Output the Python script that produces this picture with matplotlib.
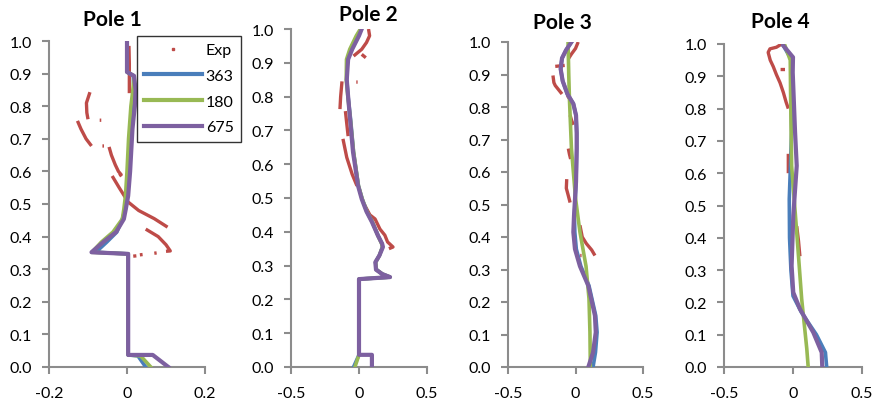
import numpy as np
import matplotlib
matplotlib.use("Agg")
import matplotlib.pyplot as plt
from matplotlib.lines import Line2D

plt.rcParams['font.family'] = ['Lato', 'DejaVu Sans']

nan = np.nan

# ---------------- Pole 1 ----------------
p1_exp_x = [0.005, 0.006, 0.006, nan,
            -0.095, -0.104, -0.103, -0.100, nan,
            -0.070, -0.066, nan,
            -0.127, -0.118, -0.105, -0.091, nan,
            -0.063, -0.059, nan,
            -0.046, -0.040, -0.030, -0.022, -0.015, -0.020, nan,
            -0.038, -0.020, 0.003, 0.030, 0.070, 0.104, nan,
            0.048, 0.080, 0.100, 0.111, 0.100, nan,
            0.016, 0.024, nan, 0.033, 0.040, nan, 0.070, 0.076]
p1_exp_y = [0.985, 0.930, 0.840, nan,
            0.843, 0.810, 0.780, 0.760, nan,
            0.757, 0.757, nan,
            0.755, 0.730, 0.700, 0.678, nan,
            0.678, 0.678, nan,
            0.675, 0.650, 0.620, 0.600, 0.590, 0.586, nan,
            0.586, 0.550, 0.506, 0.480, 0.455, 0.429, nan,
            0.423, 0.400, 0.375, 0.356, 0.355, nan,
            0.340, 0.341, nan, 0.344, 0.345, nan, 0.349, 0.350]

p1_363_x = [0.0, 0.0, 0.016, 0.018, 0.012, 0.008, 0.004, 0.0, -0.004, -0.012,
            -0.026, -0.052, -0.080, 0.003, 0.003, 0.028, 0.048]
p1_363_y = [1.0, 0.905, 0.893, 0.85, 0.80, 0.70, 0.60, 0.525, 0.485, 0.454,
            0.414, 0.383, 0.352, 0.347, 0.037, 0.034, 0.0]
p1_180_x = [0.0, 0.0, 0.018, 0.015, 0.010, 0.004, 0.0, -0.004, -0.008, -0.012,
            -0.036, -0.066, -0.090, 0.003, 0.003, 0.035, 0.061]
p1_180_y = [1.0, 0.905, 0.893, 0.85, 0.80, 0.70, 0.60, 0.525, 0.485, 0.454,
            0.414, 0.383, 0.352, 0.347, 0.037, 0.034, 0.0]
p1_675_x = [0.0, 0.0, 0.018, 0.022, 0.020, 0.014, 0.008, 0.003, -0.003, -0.008,
            -0.028, -0.061, -0.091, 0.003, 0.003, 0.066, 0.106]
p1_675_y = [1.0, 0.905, 0.893, 0.85, 0.80, 0.73, 0.60, 0.525, 0.485, 0.454,
            0.414, 0.383, 0.352, 0.347, 0.037, 0.037, 0.0]

# ---------------- Pole 2 ----------------
p2_exp_x = [0.070, 0.078, 0.055, 0.020, -0.010, -0.040, nan,
            0.020, 0.050, nan,
            -0.020, -0.010, nan,
            -0.125, -0.135, -0.140, nan,
            -0.100, -0.090, -0.080, nan,
            -0.118, -0.090, -0.050, -0.015, nan,
            0.040, 0.080, 0.118, 0.154, 0.190, 0.210, 0.250, 0.220]
p2_exp_y = [1.000, 0.980, 0.960, 0.940, 0.930, 0.920, nan,
            0.925, 0.915, nan,
            0.843, 0.843, nan,
            0.845, 0.800, 0.763, nan,
            0.757, 0.720, 0.683, nan,
            0.675, 0.620, 0.570, 0.536, nan,
            0.480, 0.450, 0.438, 0.408, 0.390, 0.370, 0.355, 0.350]

p2_363_x = [0.015, -0.010, -0.060, -0.085, -0.090, -0.080, -0.062, -0.040, -0.004,
            0.024, 0.058, 0.098, 0.142, 0.168, 0.172, 0.150, 0.122, 0.128, 0.172,
            0.228, 0.0, 0.0, -0.040]
p2_363_y = [1.0, 0.98, 0.94, 0.91, 0.85, 0.80, 0.734, 0.636, 0.536,
            0.497, 0.46, 0.429, 0.388, 0.365, 0.355, 0.33, 0.31, 0.288, 0.275,
            0.266, 0.26, 0.036, 0.0]
p2_180_x = [0.010, -0.020, -0.068, -0.092, -0.094, -0.082, -0.064, -0.040, -0.004,
            0.024, 0.058, 0.098, 0.140, 0.166, 0.172, 0.150, 0.122, 0.128, 0.172,
            0.228, 0.0, 0.0, -0.030]
p2_180_y = [1.0, 0.98, 0.94, 0.91, 0.85, 0.80, 0.734, 0.636, 0.536,
            0.497, 0.46, 0.429, 0.388, 0.365, 0.355, 0.33, 0.31, 0.288, 0.275,
            0.266, 0.26, 0.036, 0.0]
p2_675_x = [0.020, 0.000, -0.050, -0.080, -0.090, -0.080, -0.066, -0.044, -0.007,
            0.020, 0.055, 0.095, 0.140, 0.170, 0.176, 0.150, 0.120, 0.125, 0.170,
            0.228, 0.0, 0.0, 0.095, 0.095]
p2_675_y = [1.0, 0.98, 0.94, 0.91, 0.85, 0.80, 0.734, 0.636, 0.536,
            0.497, 0.46, 0.429, 0.388, 0.365, 0.355, 0.33, 0.31, 0.288, 0.275,
            0.266, 0.26, 0.036, 0.036, 0.0]

# ---------------- Pole 3 ----------------
p3_exp_x = [0.020, 0.000, -0.030, -0.050, nan,
            -0.150, -0.080, nan,
            -0.167, -0.160, -0.150, -0.100, nan,
            -0.060, -0.035, nan,
            -0.040, -0.030, -0.016, nan,
            -0.053, -0.045, -0.036, nan,
            -0.065, -0.068, -0.055, -0.040, nan,
            0.033, 0.050, 0.080, 0.120, 0.144, nan,
            0.035, 0.045]
p3_exp_y = [1.000, 0.980, 0.963, 0.950, nan,
            0.925, 0.928, nan,
            0.897, 0.875, 0.866, 0.840, nan,
            0.835, 0.820, nan,
            0.775, 0.760, 0.745, nan,
            0.672, 0.655, 0.640, nan,
            0.578, 0.550, 0.530, 0.506, nan,
            0.436, 0.400, 0.380, 0.360, 0.343, nan,
            0.343, 0.343]

p3_363_x = [-0.030, -0.070, -0.100, -0.110, -0.095, -0.060, -0.016, 0.004, 0.009,
            0.009, 0.004, -0.008, -0.005, 0.006, 0.040, 0.100, 0.150, 0.160,
            0.148, 0.130]
p3_363_y = [1.0, 0.975, 0.95, 0.917, 0.88, 0.84, 0.81, 0.774, 0.72,
            0.672, 0.57, 0.466, 0.415, 0.363, 0.31, 0.25, 0.158, 0.107,
            0.045, 0.0]
p3_180_x = [-0.055, -0.050, -0.045, -0.030, 0.000, 0.033, 0.078, 0.100, 0.107, 0.110]
p3_180_y = [1.0, 0.9, 0.826, 0.672, 0.52, 0.415, 0.31, 0.21, 0.107, 0.0]
p3_675_x = [-0.030, -0.070, -0.100, -0.110, -0.095, -0.060, -0.016, 0.004, 0.009,
            0.009, 0.004, -0.011, -0.016, -0.004, 0.033, 0.095, 0.144, 0.150,
            0.130, 0.095]
p3_675_y = [1.0, 0.975, 0.95, 0.917, 0.88, 0.84, 0.81, 0.774, 0.72,
            0.672, 0.57, 0.466, 0.415, 0.363, 0.31, 0.25, 0.158, 0.107,
            0.045, 0.0]

# ---------------- Pole 4 ----------------
p4_exp_x = [-0.082, -0.120, -0.167, -0.180, -0.165, -0.143, -0.120, -0.094, -0.070,
            -0.050, -0.034, nan,
            -0.090, -0.058, nan,
            -0.034, -0.034, nan,
            0.027, 0.040, 0.050]
p4_exp_y = [1.000, 0.990, 0.985, 0.974, 0.950, 0.930, 0.905, 0.880, 0.850,
            0.820, 0.800, nan,
            0.921, 0.921, nan,
            0.660, 0.600, nan,
            0.436, 0.390, 0.343]

p4_363_x = [-0.070, -0.010, -0.015, -0.010, -0.027, -0.025, -0.015, 0.000, 0.060,
            0.170, 0.235, 0.244]
p4_363_y = [0.995, 0.95, 0.90, 0.727, 0.52, 0.40, 0.30, 0.22, 0.17,
            0.10, 0.045, 0.0]
p4_180_x = [-0.058, -0.020, -0.017, -0.010, 0.027, 0.063, 0.100, 0.110]
p4_180_y = [0.995, 0.95, 0.83, 0.623, 0.417, 0.21, 0.056, 0.0]
p4_675_x = [-0.070, 0.000, -0.002, 0.015, 0.027, 0.002, -0.010, 0.002, 0.050,
            0.147, 0.208, 0.212]
p4_675_y = [0.995, 0.959, 0.912, 0.727, 0.623, 0.468, 0.313, 0.231, 0.18,
            0.107, 0.045, 0.0]

poles = [
    ("Pole 1", p1_exp_x, p1_exp_y, p1_363_x, p1_363_y, p1_180_x, p1_180_y, p1_675_x, p1_675_y),
    ("Pole 2", p2_exp_x, p2_exp_y, p2_363_x, p2_363_y, p2_180_x, p2_180_y, p2_675_x, p2_675_y),
    ("Pole 3", p3_exp_x, p3_exp_y, p3_363_x, p3_363_y, p3_180_x, p3_180_y, p3_675_x, p3_675_y),
    ("Pole 4", p4_exp_x, p4_exp_y, p4_363_x, p4_363_y, p4_180_x, p4_180_y, p4_675_x, p4_675_y),
]
x_ranges = [(-0.2, 0.2), (-0.5, 0.5), (-0.5, 0.5), (-0.5, 0.5)]
x_ticks = [[-0.2, 0, 0.2], [-0.5, 0, 0.5], [-0.5, 0, 0.5], [-0.5, 0, 0.5]]
x_ticklabels = [["-0.2", "0", "0.2"], ["-0.5", "0", "0.5"], ["-0.5", "0", "0.5"], ["-0.5", "0", "0.5"]]
y_ticks = np.round(np.arange(0, 1.01, 0.1), 1)

c_exp = '#BE4B48'
c_363 = '#4A7EBB'
c_180 = '#98B954'
c_675 = '#7D60A0'
grey = '#8C8C8C'

W, H = 880, 406
fig = plt.figure(figsize=(W / 100, H / 100), dpi=100)

# plot area boxes in pixels: left, right, top, bottom
boxes = [(49, 205, 42, 368), (291, 427, 30, 368), (508, 643, 43, 368), (724, 862, 45, 368)]
title_pos = [(112, 20), (368, 15), (562, 23), (780, 22)]

for i, (name, ex, ey, bx, by, gx, gy, px, py) in enumerate(poles):
    l, r, t, b = boxes[i]
    ax = fig.add_axes([l / W, 1 - b / H, (r - l) / W, (b - t) / H])
    ax.plot(ex, ey, color=c_exp, lw=2.4, solid_capstyle='butt', zorder=2)
    ax.plot(bx, by, color=c_363, lw=2.6, solid_joinstyle='round', zorder=3)
    ax.plot(gx, gy, color=c_180, lw=2.6, solid_joinstyle='round', zorder=4)
    ax.plot(px, py, color=c_675, lw=3.0, solid_joinstyle='round', zorder=5)
    ax.set_xlim(*x_ranges[i])
    ax.set_ylim(0, 1)
    ax.set_xticks(x_ticks[i])
    ax.set_xticklabels(x_ticklabels[i])
    ax.set_yticks(y_ticks)
    ax.set_yticklabels([f"{v:.1f}" for v in y_ticks])
    for s in ['top', 'right']:
        ax.spines[s].set_visible(False)
    for s in ['left', 'bottom']:
        ax.spines[s].set_color(grey)
        ax.spines[s].set_linewidth(1.5)
    ax.tick_params(axis='both', colors=grey, width=1.5, length=5, labelcolor='black',
                   labelsize=11.5)
    ax.tick_params(axis='y', pad=7)
    ax.tick_params(axis='x', pad=9)
    ax.patch.set_alpha(0)
    for sp in ax.spines.values():
        sp.set_zorder(1)
    tx, ty = title_pos[i]
    fig.text(tx / W, 1 - ty / H, name, ha='center', va='center',
             fontsize=15, fontweight='bold')

handles = [
    Line2D([], [], color=c_exp, marker='s', markersize=2.0, linestyle='none'),
    Line2D([], [], color=c_363, lw=3),
    Line2D([], [], color=c_180, lw=3),
    Line2D([], [], color=c_675, lw=3),
]
leg = fig.legend(handles, ["Exp", "363", "180", "675"], loc='upper left',
                 bbox_to_anchor=(137 / W, 1 - 37 / H), fontsize=11.5,
                 frameon=True, fancybox=False, handlelength=3.6,
                 handletextpad=0.25, labelspacing=0.72, borderpad=0.45,
                 borderaxespad=0)
leg.get_frame().set_edgecolor('black')
leg.get_frame().set_linewidth(1.0)
leg.set_zorder(10)

fig.savefig("out.png", dpi=100)
